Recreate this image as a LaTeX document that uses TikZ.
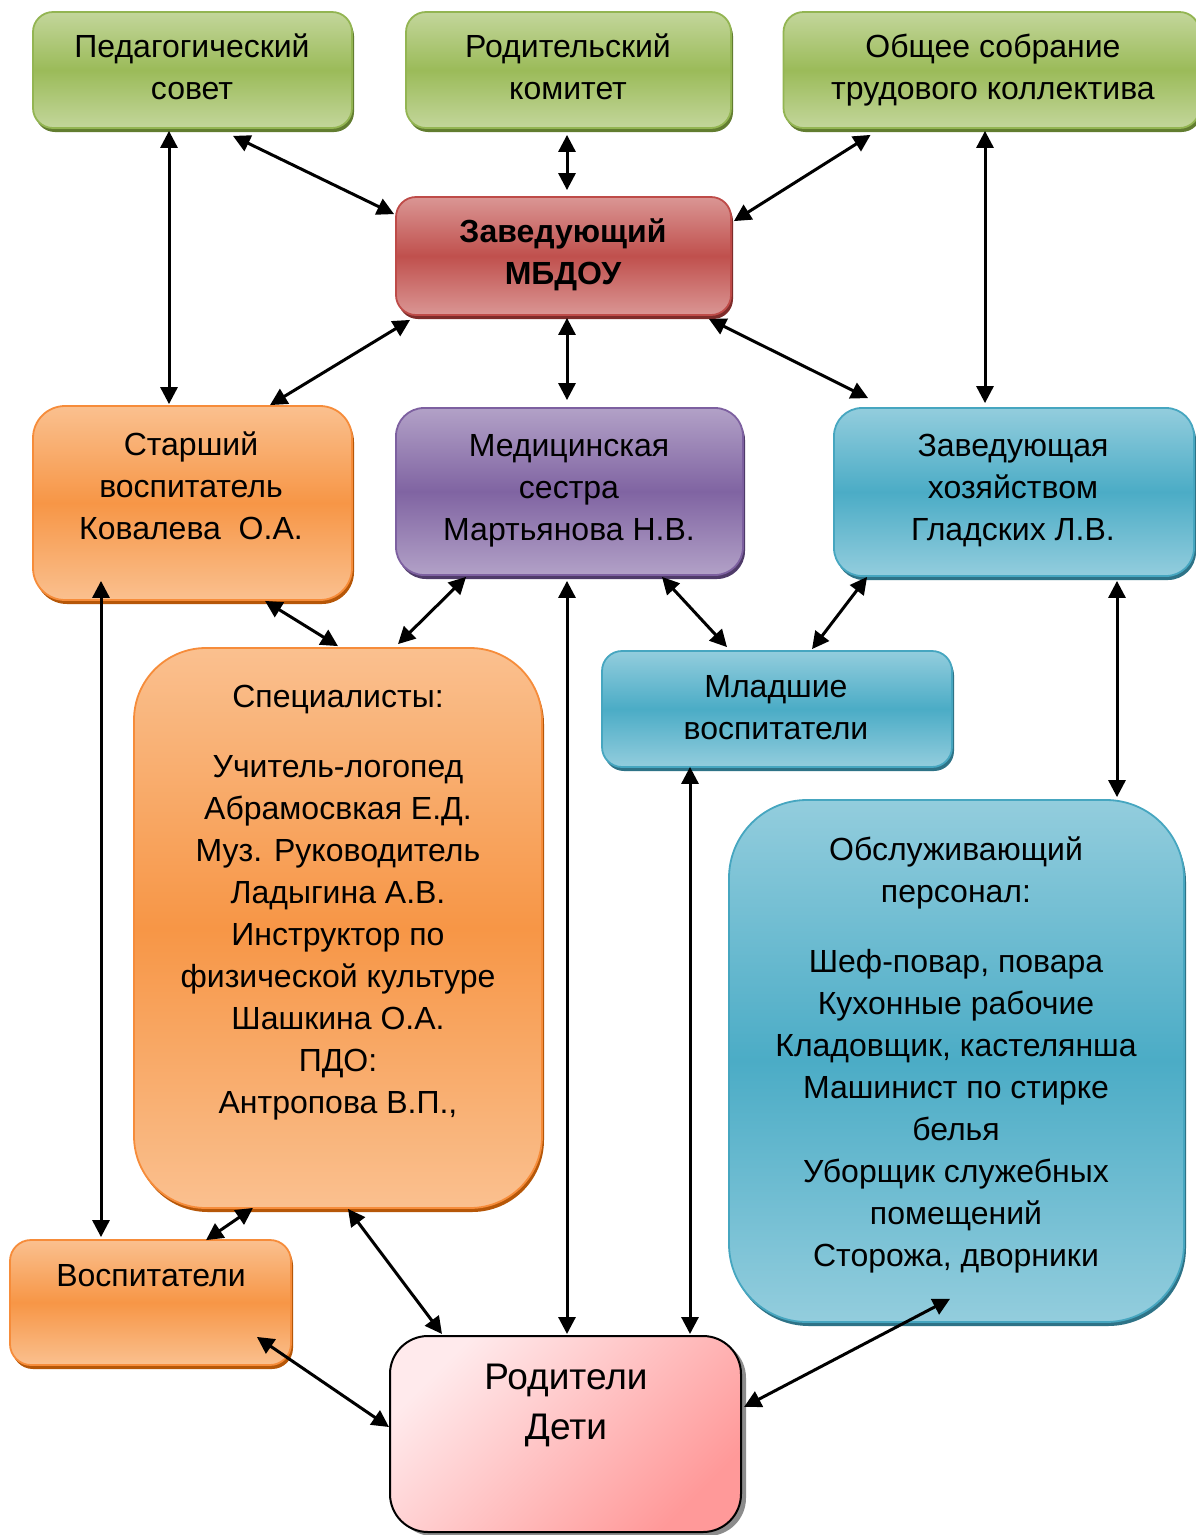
\documentclass[tikz,border=0pt]{standalone}
\usepackage{fontspec}
\setmainfont{Liberation Sans}
\usetikzlibrary{arrows.meta,shadows,calc}
\definecolor{gL}{HTML}{C3D69B}\definecolor{gM}{HTML}{9BBB59}\definecolor{gB}{HTML}{93B552}\definecolor{gS}{HTML}{627D30}
\definecolor{rL}{HTML}{DA9694}\definecolor{rM}{HTML}{C0504D}\definecolor{rB}{HTML}{BE4B48}\definecolor{rS}{HTML}{7E2C2A}
\definecolor{oL}{HTML}{FAC08F}\definecolor{oM}{HTML}{F79646}\definecolor{oB}{HTML}{F68C3A}\definecolor{oS}{HTML}{B65708}
\definecolor{pL}{HTML}{B2A1C7}\definecolor{pM}{HTML}{8064A2}\definecolor{pB}{HTML}{7D60A0}\definecolor{pS}{HTML}{4F3B69}
\definecolor{bL}{HTML}{93CDDD}\definecolor{bM}{HTML}{4BACC6}\definecolor{bB}{HTML}{46A6C0}\definecolor{bS}{HTML}{2E7387}
\definecolor{kL}{HTML}{FFEAEC}\definecolor{kD}{HTML}{FF9999}
\newcommand\toprl{\rule{0pt}{25pt}}
\tikzset{
  fancy/.style n args={4}{draw=#3, line width=1.8pt, top color=#1, bottom color=#1, middle color=#2,
    drop shadow={shadow xshift=2pt, shadow yshift=-4pt, fill=#4, opacity=1}, inner sep=0pt},
  greenbox/.style={fancy={gL}{gM}{gB}{gS}, rounded corners=20pt},
  redbox/.style={fancy={rL}{rM}{rB}{rS}, rounded corners=20pt},
  orangebox/.style={fancy={oL}{oM}{oB}{oS}},
  purplebox/.style={fancy={pL}{pM}{pB}{pS}},
  bluebox/.style={fancy={bL}{bM}{bB}{bS}},
  pinkbox/.style={draw=black, line width=2pt, top color=kL, bottom color=kD, shading angle=45,
    drop shadow={shadow xshift=5pt, shadow yshift=-4pt, fill=black!45, opacity=1}, inner sep=0pt, rounded corners=38pt},
  txt/.style={align=center, anchor=north, inner sep=0pt, font=\fontsize{32}{42}\selectfont},
  tipend/.tip={Triangle[length=17pt 0,width=17pt 0]},
  link/.style={tipend-tipend, line width=3pt, black},
}
\begin{document}
\begin{tikzpicture}[x=1pt,y=-1pt]
\useasboundingbox (0,0) rectangle (1196,1535);
\fill[white] (0,0) rectangle (1196,1535);
% boxes
\node[greenbox, minimum width=319pt, minimum height=116pt] (ped) at (192.5,70) {};
\node[greenbox, minimum width=325pt, minimum height=116pt] (rod) at (568.5,70) {};
\node[greenbox, minimum width=416pt, minimum height=116pt] (obsh) at (991.5,70) {};
\node[redbox, minimum width=335pt, minimum height=118pt] (zav) at (563.5,256) {};
\node[orangebox, rounded corners=32pt, minimum width=319pt, minimum height=194pt] (star) at (192.5,503) {};
\node[purplebox, rounded corners=28pt, minimum width=347pt, minimum height=167pt] (med) at (569.5,491.5) {};
\node[bluebox, rounded corners=28pt, minimum width=360pt, minimum height=168pt] (zhoz) at (1014,492) {};
\node[orangebox, rounded corners=72pt, minimum width=408pt, minimum height=560pt] (spec) at (338,928) {};
\node[bluebox, rounded corners=20pt, minimum width=350pt, minimum height=116pt] (mlad) at (777,709) {};
\node[bluebox, rounded corners=78pt, minimum width=455pt, minimum height=522pt] (obsl) at (956.5,1061) {};
\node[orangebox, rounded corners=21pt, minimum width=281pt, minimum height=125pt] (vosp) at (150.5,1302.5) {};
\node[pinkbox, minimum width=351pt, minimum height=196pt] (rodit) at (565.5,1434) {};
% texts
\node[txt] (pedT) at (192,32) {\toprl Педагогический\\совет};
\node[txt] (rodT) at (568,32) {\toprl Родительский\\комитет};
\node[txt] (obshT) at (993,32) {\toprl Общее собрание\\трудового коллектива};
\node[txt, font=\fontsize{32}{42}\selectfont\bfseries] (zavT) at (563,217) {\toprl Заведующий\\МБДОУ};
\node[txt] (starT) at (191,430) {\toprl Старший\\воспитатель\\Ковалева\ \ О.А.};
\node[txt] (medT) at (569,431) {\toprl Медицинская\\сестра\\Мартьянова Н.В.};
\node[txt] (zhozT) at (1013,431) {\toprl Заведующая\\хозяйством\\Гладских Л.В.};
\node[txt] (specT) at (338,682) {\toprl Специалисты:\\[28pt]Учитель-логопед\\Абрамосвкая Е.Д.\\Муз. Руководитель\\Ладыгина А.В.\\Инструктор по\\физической культуре\\Шашкина О.А.\\ПДО:\\Антропова В.П.,};
\node[txt] (mladT) at (776,672) {\toprl Младшие\\воспитатели};
\node[txt] (obslT) at (956,835) {\toprl Обслуживающий\\персонал:\\[28pt]Шеф-повар, повара\\Кухонные рабочие\\Кладовщик, кастелянша\\Машинист по стирке\\белья\\Уборщик служебных\\помещений\\Сторожа, дворники};
\node[txt] (vospT) at (151,1261) {\toprl Воспитатели};
\node[txt, font=\fontsize{37}{50}\selectfont] (roditT) at (566,1360) {\rule{0pt}{29pt}Родители\\Дети};
% connectors
\draw[link] ($(ped.south)+(-23.5,2)$) -- ($(star.north)+(-23.5,-1)$);
\draw[link] ($(ped.south)+(40.5,7)$) -- ($(zav.north west)+(-1,18)$);
\draw[link] ($(rod.south)+(-1.5,6)$) -- ($(zav.north)+(3.5,-6)$);
\draw[link] ($(obsh.south west)+(88,6)$) -- ($(zav.north east)+(2,25)$);
\draw[link] ($(obsh.south)+(-6.5,2)$) -- ($(zhoz.north)+(-29,-4)$);
\draw[link] ($(zav.south west)+(15,4)$) -- ($(star.north)+(77.5,0)$);
\draw[link] ($(zav.south)+(3.5,2)$) -- ($(med.north)+(-2.5,-7)$);
\draw[link] ($(zav.south east)+(-23,3)$) -- ($(zhoz.north west)+(35,-9)$);
\draw[link] ($(star.south)+(-91.5,-20)$) -- ($(vosp.north)+(-49.5,-2)$);
\draw[link] ($(star.south)+(72.5,0)$) -- ($(spec.north)+(0,-1)$);
\draw[link] ($(med.south west)+(71,1)$) -- ($(spec.north)+(60,-3)$);
\draw[link] ($(med.south)+(-2.5,5)$) -- ($(rodit.north)+(1.5,-1)$);
\draw[link] ($(med.south)+(92.5,1)$) -- ($(mlad.north)+(-50,-3)$);
\draw[link] ($(zhoz.south west)+(34,0)$) -- ($(mlad.north)+(35,-1)$);
\draw[link] ($(zhoz.south)+(103,4)$) -- ($(obsl.north)+(160.5,-2)$);
\draw[link] ($(mlad.south)+(-87,-1)$) -- ($(rodit.north)+(124.5,-1)$);
\draw[link] ($(spec.south)+(-85,-1)$) -- ($(vosp.north)+(55.5,1)$);
\draw[link] ($(spec.south)+(10,0)$) -- ($(rodit.north west)+(53,-1)$);
\draw[link] ($(vosp.south east)+(-35,-29)$) -- ($(rodit.west)+(0,-7)$);
\draw[link] ($(obsl.south)+(-6.5,-24)$) -- ($(rodit.east)+(2,-27)$);
\end{tikzpicture}
\end{document}
